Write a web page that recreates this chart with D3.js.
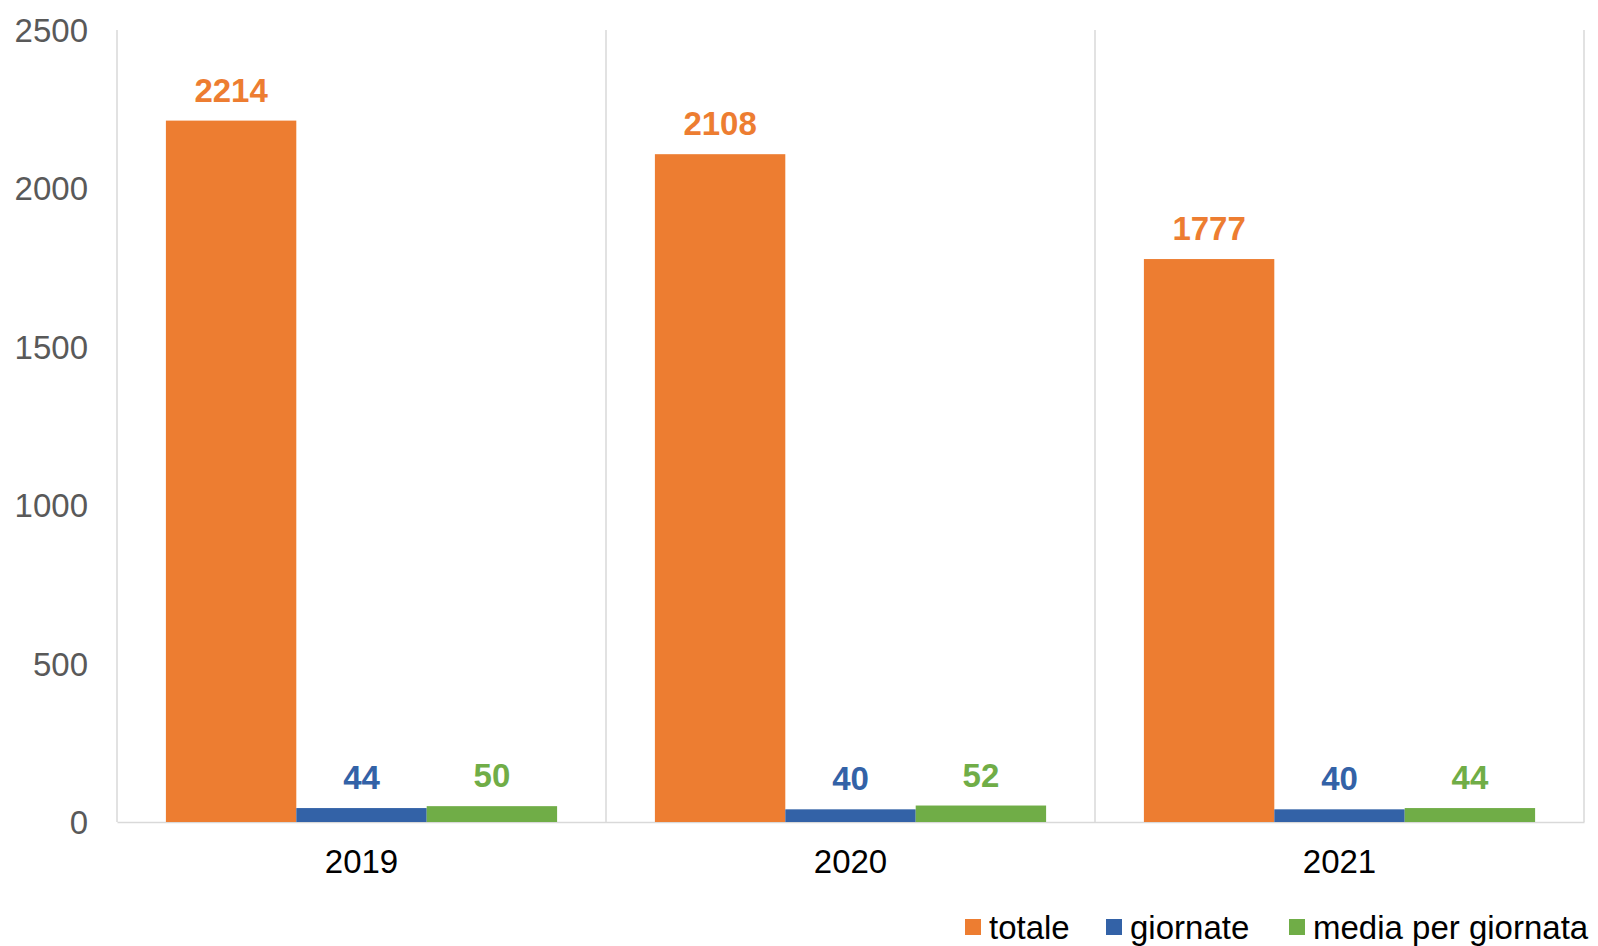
<!DOCTYPE html>
<html>
<head>
<meta charset="utf-8">
<script src="https://cdn.jsdelivr.net/npm/d3@7"></script>
<style>
  html, body { margin: 0; padding: 0; background: #fff; }
  svg { display: block; font-family: "Liberation Sans", Arial, sans-serif; }
</style>
</head>
<body>
<svg id="chart" width="1598" height="946"></svg>
<script>
const categories = ["2019", "2020", "2021"];
const seriesNames = ["totale", "giornate", "media per giornata"];
const totale = [2214, 2108, 1777];
const giornate = [44, 40, 40];
const media = [50, 52, 44];
const yTicks = [0, 500, 1000, 1500, 2000, 2500];
const colors = ["#ED7D31", "#3362A7", "#70AD47"];

const seriesValues = [totale, giornate, media];

(function () {
const svg = d3.select("#chart");
const plotLeft = 117, plotRight = 1584, plotTop = 30, plotBottom = 822;

const x0 = d3.scaleBand().domain(categories).range([plotLeft, plotRight]).padding(0);
const bw = x0.bandwidth();
const x1 = d3.scaleBand().domain(seriesNames).range([bw * 0.1, bw * 0.9]).padding(0);
const y = d3.scaleLinear().domain([0, 2500]).range([plotBottom, plotTop]);

// vertical gridlines at category boundaries
const bounds = categories.map(c => x0(c)).concat([plotRight]);
svg.append("g").selectAll("line").data(bounds).join("line")
  .attr("x1", d => d).attr("x2", d => d)
  .attr("y1", y(2500)).attr("y2", plotBottom)
  .attr("stroke", "#D9D9D9").attr("stroke-width", 1.5);

// y axis labels
const yAxis = d3.axisLeft(y).tickValues(yTicks).tickFormat(d3.format("d")).tickSize(0).tickPadding(0);
const yg = svg.append("g").attr("transform", `translate(${plotLeft - 29},0)`).call(yAxis);
yg.select(".domain").remove();
yg.selectAll("text").attr("fill", "#595959").style("font-size", "33px")
  .style("font-family", "'Liberation Sans', Arial, sans-serif").attr("dy", "0.35em");

// x axis
const xAxis = d3.axisBottom(x0).tickSize(0).tickPadding(0);
const xg = svg.append("g").attr("transform", `translate(0,${plotBottom})`).call(xAxis);
xg.select(".domain").attr("stroke", "#D9D9D9").attr("stroke-width", 1.5);
xg.selectAll("text").attr("fill", "#000").style("font-size", "33px")
  .style("font-family", "'Liberation Sans', Arial, sans-serif").attr("y", 28).attr("dy", "0.71em");

// bars
const groups = svg.append("g").selectAll("g").data(categories).join("g")
  .attr("transform", c => `translate(${x0(c)},0)`);

groups.each(function(c, ci) {
  const g = d3.select(this);
  const data = seriesNames.map((s, si) => ({ s, si, v: seriesValues[si][ci] }));
  g.selectAll("rect").data(data).join("rect")
    .attr("x", d => x1(d.s))
    .attr("width", x1.bandwidth())
    .attr("y", d => y(d.v))
    .attr("height", d => plotBottom - y(d.v))
    .attr("fill", d => colors[d.si]);
  g.selectAll("text").data(data).join("text")
    .attr("x", d => x1(d.s) + x1.bandwidth() / 2)
    .attr("y", d => y(d.v) - 19)
    .attr("text-anchor", "middle")
    .attr("fill", d => colors[d.si])
    .style("font-size", "33px")
    .style("font-weight", "bold")
    .text(d => d.v);
});

// legend
const legendItems = [
  { name: seriesNames[0], x: 965 },
  { name: seriesNames[1], x: 1106 },
  { name: seriesNames[2], x: 1289 }
];
const lg = svg.append("g").selectAll("g").data(legendItems).join("g")
  .attr("transform", d => `translate(${d.x},919)`);
lg.append("rect").attr("width", 16).attr("height", 16)
  .attr("fill", (d, i) => colors[i]);
lg.append("text").attr("x", 24).attr("y", 8).attr("dy", "0.35em")
  .attr("fill", "#000").style("font-size", "33px")
  .text(d => d.name);
})();
</script>
</body>
</html>
